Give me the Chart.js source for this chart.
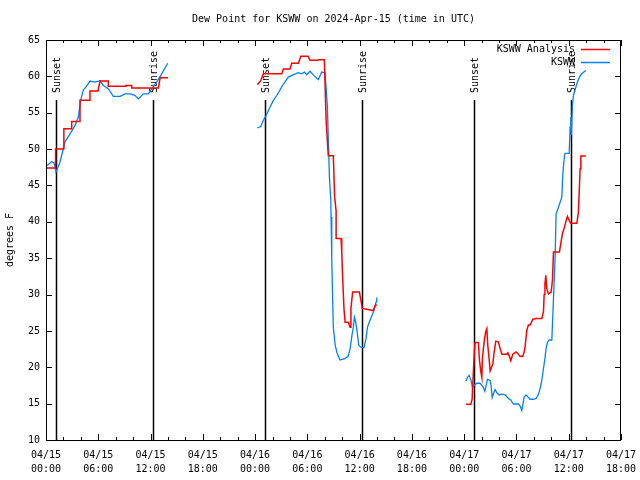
<!DOCTYPE html>
<html>
<head>
<meta charset="utf-8">
<script src="https://cdn.jsdelivr.net/npm/chart.js@4/dist/chart.umd.min.js"></script>
<style>
  html, body { margin: 0; padding: 0; background: #fff; }
  #wrap { width: 640px; height: 480px; position: relative; }
</style>
</head>
<body>
<div id="wrap"><canvas id="dew"></canvas></div>
<script>
// hours since 04/15 00:00 UTC, dew point in deg F
const analysisHrs1 = [0.0,1.1,1.1,2.05,2.05,2.95,2.95,3.9,3.9,5.05,5.05,5.97,6.2,7.15,7.15,9.07,9.17,9.84,9.84,12.9,13.1,14.0];
const analysisDew1 = [47.4,47.4,50.0,50.0,52.8,52.8,53.8,53.8,56.7,56.7,58.0,58.0,59.35,59.35,58.65,58.65,58.75,58.75,58.4,58.4,59.8,59.8];
const analysisHrs2 = [24.26,24.65,24.95,27.06,27.25,28.0,28.2,28.97,29.25,30.1,30.3,31.15,31.25,31.95,32.15,32.4,32.98,33.13,33.3,33.3,33.87,33.95,34.06,34.2,34.33,34.7,34.9,35.0,35.2,35.97,36.15,36.3,37.58,37.78,37.97];
const analysisDew2 = [58.85,59.4,60.35,60.35,61.0,61.0,61.8,61.8,62.75,62.75,62.2,62.2,62.3,62.3,54.0,49.1,49.1,43.4,41.5,37.7,37.7,35.85,31.96,28.1,26.2,26.2,25.5,28.1,30.35,30.35,29.2,28.1,27.8,28.5,28.6];
const analysisHrs3 = [48.22,48.76,48.91,49.06,49.17,49.25,49.63,49.75,49.91,50.03,50.09,50.21,50.32,50.48,50.6,50.71,50.86,50.98,51.09,51.29,51.43,51.63,51.93,52.12,52.32,52.89,53.01,53.19,53.35,53.58,53.96,54.15,54.42,54.73,54.88,54.99,55.19,55.37,55.57,55.88,56.26,56.91,57.1,57.18,57.27,57.37,57.48,57.67,57.98,58.13,58.25,58.93,59.09,59.28,59.47,59.67,59.85,60.05,60.24,60.93,61.11,61.31,61.39,61.96];
const analysisDew3 = [14.9,14.9,15.6,19.5,22.1,23.4,23.4,21.0,19.4,18.6,21.2,22.6,23.8,24.9,25.3,23.0,21.2,19.5,19.8,20.5,22.0,23.6,23.5,22.6,21.8,21.8,22.0,21.5,20.9,21.8,22.1,21.9,21.5,21.5,22.1,22.8,25.1,25.8,25.8,26.6,26.7,26.7,27.6,30.0,31.5,32.65,30.8,30.1,30.35,31.96,35.85,35.85,37.0,38.4,39.1,40.0,40.75,40.2,39.8,39.8,41.35,47.3,49.05,49.05];

const obsHrs1 = [0.0,0.65,0.92,1.15,1.6,2.18,2.76,3.33,3.71,3.98,4.28,4.86,5.05,5.63,6.2,6.58,7.15,7.73,8.5,9.07,9.64,10.2,10.6,11.17,11.75,12.14,12.7,13.28,13.97];
const obsDew1 = [47.6,48.3,48.1,46.85,48.2,51.0,52.1,53.25,54.4,56.7,58.1,59.0,59.35,59.2,59.4,58.75,58.3,57.25,57.25,57.6,57.6,57.4,56.9,57.6,57.6,58.3,59.2,60.35,61.8];
const obsHrs2 = [24.26,24.65,24.95,25.26,25.72,26.1,26.5,26.87,27.25,27.82,28.4,28.97,29.36,29.66,29.93,30.31,30.77,31.26,31.65,32.03,32.15,32.3,32.41,32.53,32.69,32.72,32.8,32.91,32.98,33.2,33.4,33.75,34.3,34.67,34.9,35.13,35.28,35.4,35.55,35.7,35.9,36.2,36.5,36.74,36.9,37.1,37.58,37.89,37.97];
const obsDew2 = [52.9,53.1,53.95,54.6,55.8,56.7,57.4,58.15,58.95,59.9,60.25,60.5,60.35,60.6,60.25,60.7,60.1,59.55,60.6,60.5,58.5,55.8,51.2,46.15,43.0,40.7,35.0,29.0,25.5,23.0,22.0,21.0,21.2,21.5,22.5,24.5,25.5,26.9,26.2,25.0,23.0,22.7,22.7,24.0,25.5,26.2,27.6,29.0,29.6];
const obsHrs3 = [48.22,48.37,48.56,48.79,48.94,49.14,49.45,49.83,50.02,50.21,50.37,50.52,50.67,50.98,51.09,51.21,51.36,51.55,51.75,52.04,52.32,52.7,53.08,53.35,53.65,54.22,54.42,54.62,54.73,54.88,55.11,55.37,55.57,55.95,56.26,56.52,56.72,56.91,57.1,57.29,57.4,57.55,57.75,58.06,58.13,58.25,58.44,58.55,58.82,59.01,59.21,59.32,59.51,59.59,60.05,60.16,60.24,60.28,60.43,60.54,60.73,60.93,61.23,61.5,61.96];
const obsDew3 = [18.1,18.6,18.9,18.2,17.3,17.5,17.8,17.8,17.5,17.2,16.7,17.5,18.35,18.2,17.5,15.85,16.4,16.95,16.5,16.2,16.3,16.2,15.7,15.5,14.95,14.95,14.65,14.1,14.8,15.9,16.2,15.85,15.6,15.6,15.7,16.25,17.1,18.2,19.8,21.4,22.6,23.4,23.75,23.75,25.8,29.45,35.2,41.1,42.0,42.7,43.4,46.6,49.1,49.4,49.4,53.0,54.4,51.9,56.0,57.4,58.1,59.0,59.9,60.35,60.8];

const sunsetHrs  = [1.18, 25.18, 49.17];
const sunriseHrs = [12.32, 36.3, 60.3];

const seriesNames = ['KSWW Analysis', 'KSWW'];
const seriesColors = ['#ff0000', '#0080ff'];
const titleText = 'Dew Point for KSWW on 2024-Apr-15 (time in UTC)';
const yTitle = 'degrees F';

const MONO = '"DejaVu Sans Mono", "Liberation Mono", monospace';

function toPoints(segs){
  const out = [];
  segs.forEach(([hrs, vals], k) => {
    if(k > 0) out.push({x: hrs[0] - 0.01, y: null});   // break between runs
    hrs.forEach((h, i) => out.push({x: h, y: vals[i]}));
  });
  return out;
}

function tickLabel(v){
  const day = 15 + Math.floor(v / 24);
  const hr = v % 24;
  return ['04/' + day, String(hr).padStart(2, '0') + ':00'];
}

const gnuplotLook = {
  id: 'gnuplotLook',
  beforeDatasetsDraw(chart){
    const {ctx, chartArea: a, scales: {x}} = chart;
    ctx.save();
    ctx.font = '10px ' + MONO;
    ctx.fillStyle = '#000';
    ctx.strokeStyle = '#000';
    ctx.lineWidth = 1.5;
    const mark = (h, txt) => {
      const px = Math.round(x.getPixelForValue(h)) + 0.5;
      ctx.beginPath();
      ctx.moveTo(px, a.top + 60);
      ctx.lineTo(px, a.bottom);
      ctx.stroke();
      ctx.save();
      ctx.translate(px + 1, a.top + 53);
      ctx.rotate(-Math.PI / 2);
      ctx.textAlign = 'left';
      ctx.textBaseline = 'middle';
      ctx.fillText(txt, 0, 0);
      ctx.restore();
    };
    sunsetHrs.forEach(h => mark(h, 'Sunset'));
    sunriseHrs.forEach(h => mark(h, 'Sunrise'));
    ctx.restore();
  },
  afterDatasetsDraw(chart){
    const {ctx, chartArea: a, scales: {x, y}} = chart;
    ctx.save();
    ctx.strokeStyle = '#000';
    ctx.lineWidth = 1;
    ctx.strokeRect(a.left + 0.5, a.top + 0.5, a.right - a.left - 1, a.bottom - a.top);

    // inward ticks, mirrored like gnuplot
    ctx.beginPath();
    for(let h = 0; h <= 66; h += 2){
      const px = Math.round(x.getPixelForValue(h)) + 0.5;
      const len = h % 6 === 0 ? 6 : 3;
      ctx.moveTo(px, a.bottom); ctx.lineTo(px, a.bottom - len);
      ctx.moveTo(px, a.top); ctx.lineTo(px, a.top + len);
    }
    for(let v = 10; v <= 65; v += 5){
      const py = Math.round(y.getPixelForValue(v)) + 0.5;
      ctx.moveTo(a.left, py); ctx.lineTo(a.left + 6, py);
      ctx.moveTo(a.right, py); ctx.lineTo(a.right - 6, py);
    }
    ctx.stroke();

    // title
    ctx.fillStyle = '#000';
    ctx.font = '10px ' + MONO;
    ctx.textAlign = 'center';
    ctx.textBaseline = 'middle';
    ctx.fillText(titleText, (a.left + a.right) / 2, 19);

    // key, top right
    ctx.textAlign = 'right';
    seriesNames.forEach((name, i) => {
      const ly = a.top + 9 + i * 13;
      ctx.fillStyle = '#000';
      ctx.fillText(name, a.right - 46, ly);
      ctx.strokeStyle = seriesColors[i];
      ctx.lineWidth = 1.5;
      ctx.beginPath();
      ctx.moveTo(a.right - 40, ly + 0.5);
      ctx.lineTo(a.right - 11, ly + 0.5);
      ctx.stroke();
    });
    ctx.restore();
  }
};

new Chart(document.getElementById('dew'), {
  type: 'line',
  data: {
    datasets: [
      {
        label: seriesNames[0],
        data: toPoints([[analysisHrs1, analysisDew1], [analysisHrs2, analysisDew2], [analysisHrs3, analysisDew3]]),
        borderColor: seriesColors[0],
        borderWidth: 1.5,
        pointRadius: 0,
        tension: 0,
        spanGaps: false
      },
      {
        label: seriesNames[1],
        data: toPoints([[obsHrs1, obsDew1], [obsHrs2, obsDew2], [obsHrs3, obsDew3]]),
        borderColor: seriesColors[1],
        borderWidth: 1.3,
        pointRadius: 0,
        tension: 0,
        spanGaps: false
      }
    ]
  },
  options: {
    responsive: true,
    maintainAspectRatio: false,
    animation: false,
    layout: { padding: { top: 40, right: 19, left: 0, bottom: 0 } },
    plugins: { legend: { display: false }, tooltip: { enabled: false }, title: { display: false } },
    scales: {
      x: {
        type: 'linear',
        min: 0, max: 66,
        grid: { display: false, drawTicks: false },
        border: { display: false },
        ticks: {
          stepSize: 6,
          autoSkip: false,
          maxRotation: 0,
          padding: 8,
          color: '#000',
          font: { family: MONO, size: 10, lineHeight: 1.4 },
          callback: v => tickLabel(v)
        },
        afterFit: s => { s.height = 40; s.paddingLeft = 0; s.paddingRight = 0; }
      },
      y: {
        min: 10, max: 65,
        grid: { display: false, drawTicks: false },
        border: { display: false },
        ticks: {
          stepSize: 5,
          padding: 6,
          color: '#000',
          font: { family: MONO, size: 10 }
        },
        title: {
          display: true,
          text: yTitle,
          color: '#000',
          padding: { top: 4, bottom: 0 },
          font: { family: MONO, size: 10 }
        },
        afterFit: s => { s.width = 46; s.paddingTop = 0; s.paddingBottom = 0; }
      }
    }
  },
  plugins: [gnuplotLook]
});
</script>
</body>
</html>
